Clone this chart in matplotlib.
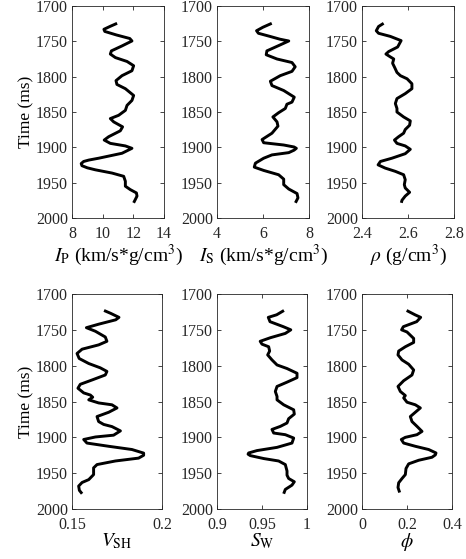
import matplotlib
matplotlib.use('Agg')
import matplotlib.pyplot as plt

plt.rcParams['font.family'] = ['Liberation Serif', 'DejaVu Serif']
plt.rcParams['mathtext.fontset'] = 'stix'

# ---- data (time in ms) ----
ip_t = [1724.5, 1729, 1733, 1736, 1741, 1746, 1749.5, 1756.5, 1763.5, 1768, 1773, 1778.5,
        1784.5, 1791.6, 1798.6, 1805.6, 1811, 1817, 1826.6, 1833.6, 1840.6, 1847.7, 1854.7,
        1859.3, 1864, 1871, 1876.6, 1885, 1889.7, 1894.4, 1898, 1901.4, 1908.4, 1915.4, 1918,
        1920, 1923, 1926, 1929, 1931.8, 1936.4, 1941, 1948, 1955, 1959.8, 1964.5, 1969, 1973.8,
        1978.5]
ip = [10.94, 10.47, 10.08, 10.14, 10.9, 11.77, 11.91, 11.26, 10.57, 10.5, 10.83, 11.59,
      12.02, 11.91, 11.26, 10.87, 10.93, 11.48, 12.02, 11.91, 11.59, 11.48, 11.04,
      10.5, 10.72, 11.3, 11.15, 10.39, 10.1, 10.5, 11.48, 11.91, 11.26, 9.74, 9.1,
      8.76, 8.6, 8.65, 9.0, 9.52, 10.61, 11.37, 11.48, 11.48, 11.8, 12.2, 12.24, 12.13,
      12.02]

is_t = [1724.5, 1730, 1735, 1738.6, 1743, 1747, 1749.5, 1755, 1763.5, 1769, 1775, 1780,
        1786, 1792.5, 1798.6, 1806.5, 1812.6, 1819.6, 1829, 1836, 1839, 1845, 1851, 1857,
        1864, 1870, 1880, 1889, 1893.5, 1896.7, 1899.5, 1901.4, 1904, 1907.5, 1910.7, 1915.4,
        1922.4, 1928, 1932.7, 1938.8, 1945, 1952.8, 1959, 1965.4, 1971.5, 1978.5]
i_s = [6.38, 6.0, 5.72, 5.8, 6.3, 6.74, 7.12, 6.75, 6.17, 6.14, 6.61, 7.26,
       7.4, 7.26, 6.75, 6.32, 6.39, 6.9, 7.36, 7.26, 7.04, 6.97, 6.68, 6.43,
       6.61, 6.65, 6.39, 5.96, 6.03, 6.9, 7.35, 7.45, 7.35, 7.12, 6.39, 6.03,
       5.67, 5.62, 6.03, 6.68, 6.9, 6.9, 7.12, 7.48, 7.52, 7.41]

rho_t = [1724.5, 1729, 1735, 1738.6, 1743, 1749, 1758, 1764.5, 1768, 1772, 1775, 1781,
         1787, 1794, 1798.6, 1803, 1810, 1817, 1824, 1831, 1838, 1845, 1850, 1857,
         1862.6, 1868.7, 1874.8, 1880, 1885, 1889.7, 1894.4, 1898, 1902.8, 1909, 1915.4,
         1920, 1924.8, 1929.4, 1934, 1938.8, 1945.8, 1952.8, 1957.5, 1963.6, 1969, 1974.8,
         1978.5]
rho = [2.494, 2.472, 2.462, 2.472, 2.523, 2.57, 2.555, 2.516, 2.504, 2.523, 2.538, 2.533,
       2.542, 2.552, 2.567, 2.596, 2.617, 2.617, 2.588, 2.552, 2.545, 2.552, 2.552, 2.581,
       2.61, 2.607, 2.588, 2.581, 2.559, 2.541, 2.552, 2.588, 2.61, 2.588, 2.53,
       2.48, 2.47, 2.501, 2.545, 2.581, 2.588, 2.584, 2.588, 2.607, 2.588, 2.574,
       2.571]

vsh_t = [1723, 1727, 1732.6, 1736, 1742, 1747, 1752, 1760, 1766, 1771, 1777, 1783, 1790,
         1797, 1803, 1808, 1813, 1820, 1826, 1831.5, 1838, 1841, 1844, 1847.7, 1852, 1854.6,
         1859, 1865, 1871, 1878, 1882, 1885, 1891, 1897, 1899.5, 1903, 1908, 1912.5, 1917,
         1922, 1925, 1929, 1933, 1938, 1942.6, 1952, 1959, 1963, 1968, 1974, 1978.7]
vsh = [0.1678, 0.1715, 0.1761, 0.1743, 0.165, 0.158, 0.163, 0.1685, 0.1694, 0.1648, 0.1556,
       0.1528, 0.154, 0.1593, 0.1657, 0.1694, 0.1685, 0.1611, 0.1546, 0.1533, 0.1565, 0.1602,
       0.1615, 0.1593, 0.1648, 0.1722, 0.175, 0.1704, 0.1639, 0.1648, 0.1676, 0.1722, 0.1769,
       0.1731, 0.163, 0.1565, 0.1583, 0.1704, 0.1833, 0.1898, 0.1898, 0.187, 0.1741, 0.1639,
       0.162, 0.162, 0.1593, 0.1556, 0.1537, 0.1541, 0.1556]

sw_t = [1723, 1729, 1732.6, 1738.6, 1745.6, 1750, 1755, 1761, 1766, 1770, 1773.6, 1779.6,
        1785, 1792, 1799, 1804, 1810.6, 1816.7, 1823, 1829, 1836, 1843, 1847.7, 1854.6,
        1861.6, 1867.6, 1874, 1880, 1884.7, 1889, 1894, 1896.3, 1901, 1908, 1914, 1918.5,
        1921.8, 1923.5, 1925.5, 1929.6, 1933, 1938, 1947, 1952.8, 1957.4, 1962, 1966.7,
        1972.7, 1978.7]
sw = [0.9744, 0.9663, 0.957, 0.9589, 0.9737, 0.982, 0.9759, 0.9593, 0.948, 0.95, 0.9574, 0.9585,
      0.9563, 0.9611, 0.9667, 0.9778, 0.9889, 0.9889, 0.9778, 0.9667, 0.9648, 0.9667, 0.9667,
      0.9741, 0.9852, 0.9859, 0.9796, 0.9778, 0.9704, 0.9611, 0.963, 0.9759, 0.9852, 0.9833,
      0.9667, 0.9444, 0.9352, 0.9345, 0.937, 0.9519, 0.9685, 0.9759, 0.9778, 0.9778, 0.9796,
      0.9859, 0.9833, 0.9759, 0.9741]

phi_t = [1723, 1729, 1732.6, 1738.6, 1745.6, 1750, 1753, 1762, 1767.6, 1773.6, 1779.6, 1785,
         1792, 1798, 1806, 1813, 1821, 1829, 1836, 1841.7, 1845, 1851, 1854.6, 1859, 1865,
         1871, 1878, 1884.7, 1891.7, 1896.3, 1900, 1903, 1908, 1912.5, 1917, 1921.8, 1924.5,
         1927.8, 1932, 1937, 1943.5, 1952, 1957.4, 1963.4, 1970, 1977]
phi = [0.1985, 0.2356, 0.2607, 0.243, 0.1837, 0.176, 0.2, 0.2296, 0.2296, 0.1926, 0.163,
       0.16, 0.1778, 0.2074, 0.2296, 0.2222, 0.1852, 0.16, 0.1704, 0.1926, 0.1852, 0.2,
       0.237, 0.2593, 0.237, 0.2148, 0.2222, 0.2444, 0.2667, 0.2444, 0.1926, 0.1748, 0.1852,
       0.237, 0.2963, 0.3289, 0.326, 0.3111, 0.2519, 0.2074, 0.1956, 0.1926, 0.178, 0.163,
       0.16, 0.1674]

time_ticks = [1700, 1750, 1800, 1850, 1900, 1950, 2000]

panels = [
    (ip_t, ip, (8, 14), [8, 10, 12, 14], ['8', '10', '12', '14'],
     r'$I_\mathrm{P}$ (km/s*g/cm$^3$)'),
    (is_t, i_s, (4, 8), [4, 6, 8], ['4', '6', '8'],
     r'$I_\mathrm{S}$ (km/s*g/cm$^3$)'),
    (rho_t, rho, (2.4, 2.8), [2.4, 2.6, 2.8], ['2.4', '2.6', '2.8'],
     r'$\rho$ (g/cm$^3$)'),
    (vsh_t, vsh, (0.15, 0.2), [0.15, 0.2], ['0.15', '0.2'],
     r'$V_\mathrm{SH}$'),
    (sw_t, sw, (0.9, 1.0), [0.9, 0.95, 1.0], ['0.9', '0.95', '1'],
     r'$S_\mathrm{W}$'),
    (phi_t, phi, (0, 0.4), [0, 0.2, 0.4], ['0', '0.2', '0.4'],
     r'$\phi$'),
]

W, H = 466, 559
fig = plt.figure(figsize=(W / 100, H / 100), dpi=100)

lefts = [72, 217, 362]
rows = [(6, 218), (294, 509)]

for i, (t, v, xlim, xt, xtl, lab) in enumerate(panels):
    r, c = divmod(i, 3)
    top, bot = rows[r]
    w = 92 if r == 0 else 90
    ax = fig.add_axes([lefts[c] / W, 1 - bot / H, w / W, (bot - top) / H])
    ax.plot(v, t, color='black', lw=2.1, solid_joinstyle='round', solid_capstyle='butt')
    ax.set_xlim(*xlim)
    ax.set_ylim(2000, 1700)
    ax.set_xticks(xt)
    ax.set_xticklabels(xtl)
    ax.set_yticks(time_ticks)
    ax.tick_params(direction='in', length=3, width=0.6, top=True, right=True,
                   labelsize=11.5, colors='#262626', pad=3)
    ax.tick_params(axis='x', pad=5.5)
    for s in ax.spines.values():
        s.set_linewidth(0.6)
        s.set_color('#262626')
    ax.set_xlabel(lab, fontsize=14, labelpad=1 if r == 0 else -1)
    if c == 0:
        ax.set_ylabel('Time (ms)', fontsize=12.5, labelpad=1)

fig.savefig('out.png', dpi=100)
